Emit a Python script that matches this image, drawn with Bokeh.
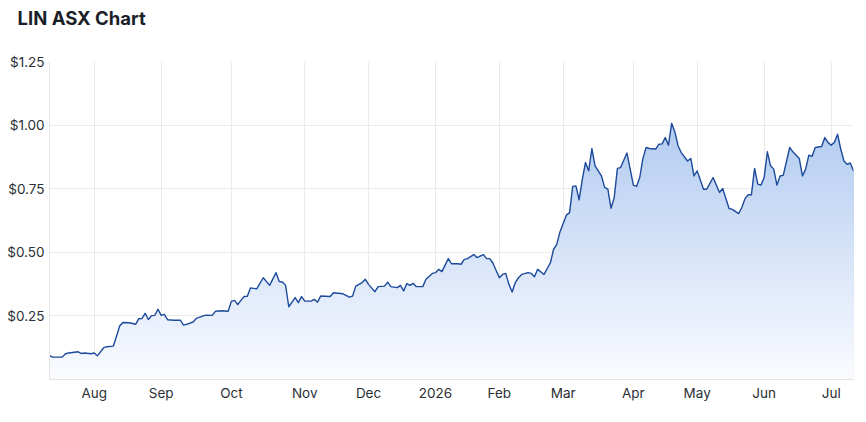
import numpy as np
from bokeh.plotting import figure
from bokeh.models import ColumnDataSource, FixedTicker, NumeralTickFormatter, Range1d
from bokeh.embed import file_html
from bokeh.resources import INLINE

# ---- data ----
dates = [
    "2025-07-14", "2025-07-15", "2025-07-18", "2025-07-21", "2025-07-22", "2025-07-25", "2025-07-28", "2025-07-29",
    "2025-07-31", "2025-08-01", "2025-08-04", "2025-08-06", "2025-08-07", "2025-08-11", "2025-08-12", "2025-08-13",
    "2025-08-14", "2025-08-18", "2025-08-20", "2025-08-21", "2025-08-22", "2025-08-25", "2025-08-26", "2025-08-27",
    "2025-08-28", "2025-08-29", "2025-09-01", "2025-09-02", "2025-09-03", "2025-09-05", "2025-09-09", "2025-09-10",
    "2025-09-11", "2025-09-15", "2025-09-16", "2025-09-18", "2025-09-19", "2025-09-23", "2025-09-24", "2025-09-26",
    "2025-09-30", "2025-10-01", "2025-10-02", "2025-10-03", "2025-10-06", "2025-10-07", "2025-10-08", "2025-10-09",
    "2025-10-10", "2025-10-13", "2025-10-15", "2025-10-17", "2025-10-21", "2025-10-22", "2025-10-23", "2025-10-24",
    "2025-10-27", "2025-10-29", "2025-10-30", "2025-10-31", "2025-11-03", "2025-11-05", "2025-11-06", "2025-11-07",
    "2025-11-10", "2025-11-13", "2025-11-14", "2025-11-19", "2025-11-21", "2025-11-24", "2025-11-25", "2025-11-27",
    "2025-11-28", "2025-12-01", "2025-12-03", "2025-12-04", "2025-12-08", "2025-12-09", "2025-12-10", "2025-12-12",
    "2025-12-15", "2025-12-16", "2025-12-17", "2025-12-18", "2025-12-19", "2025-12-22", "2025-12-24", "2025-12-29",
    "2025-12-31", "2026-01-02", "2026-01-05", "2026-01-06", "2026-01-08", "2026-01-09", "2026-01-13", "2026-01-14",
    "2026-01-15", "2026-01-16", "2026-01-20", "2026-01-21", "2026-01-23", "2026-01-27", "2026-01-28", "2026-01-29",
    "2026-02-02", "2026-02-03", "2026-02-04", "2026-02-05", "2026-02-06", "2026-02-09", "2026-02-10", "2026-02-11",
    "2026-02-13", "2026-02-16", "2026-02-17", "2026-02-18", "2026-02-20", "2026-02-24", "2026-02-25", "2026-02-26",
    "2026-02-27", "2026-03-03", "2026-03-04", "2026-03-05", "2026-03-06", "2026-03-09", "2026-03-10", "2026-03-11",
    "2026-03-12", "2026-03-13", "2026-03-16", "2026-03-18", "2026-03-19", "2026-03-20", "2026-03-23", "2026-03-24",
    "2026-03-25", "2026-03-26", "2026-03-30", "2026-03-31", "2026-04-01", "2026-04-02", "2026-04-07", "2026-04-08",
    "2026-04-09", "2026-04-10", "2026-04-14", "2026-04-15", "2026-04-16", "2026-04-17", "2026-04-20", "2026-04-21",
    "2026-04-22", "2026-04-23", "2026-04-24", "2026-04-28", "2026-04-29", "2026-04-30", "2026-05-01", "2026-05-05",
    "2026-05-06", "2026-05-08", "2026-05-12", "2026-05-13", "2026-05-15", "2026-05-18", "2026-05-20", "2026-05-21",
    "2026-05-22", "2026-05-25", "2026-05-26", "2026-05-27", "2026-05-28", "2026-05-29", "2026-06-01", "2026-06-02",
    "2026-06-03", "2026-06-04", "2026-06-05", "2026-06-09", "2026-06-10", "2026-06-12", "2026-06-15", "2026-06-17",
    "2026-06-18", "2026-06-19", "2026-06-22", "2026-06-23", "2026-06-24", "2026-06-26", "2026-06-29", "2026-06-30",
    "2026-07-01", "2026-07-02", "2026-07-03", "2026-07-06", "2026-07-07", "2026-07-08", "2026-07-09", "2026-07-10",
]
prices = [
    0.094, 0.088, 0.088, 0.101, 0.104, 0.109, 0.102, 0.104,
    0.101, 0.104, 0.093, 0.125, 0.129, 0.131, 0.170, 0.210,
    0.224, 0.223, 0.217, 0.239, 0.240, 0.260, 0.236, 0.251,
    0.252, 0.276, 0.252, 0.256, 0.235, 0.233, 0.233, 0.214,
    0.217, 0.226, 0.240, 0.249, 0.253, 0.252, 0.268, 0.270,
    0.268, 0.307, 0.311, 0.294, 0.311, 0.326, 0.327, 0.360,
    0.358, 0.357, 0.400, 0.370, 0.420, 0.385, 0.383, 0.370,
    0.286, 0.322, 0.302, 0.326, 0.308, 0.308, 0.315, 0.304,
    0.328, 0.326, 0.341, 0.337, 0.324, 0.328, 0.367, 0.381,
    0.394, 0.374, 0.345, 0.365, 0.367, 0.383, 0.365, 0.361,
    0.370, 0.348, 0.377, 0.370, 0.378, 0.365, 0.365, 0.394,
    0.417, 0.420, 0.433, 0.424, 0.475, 0.455, 0.455, 0.453,
    0.472, 0.475, 0.491, 0.479, 0.491, 0.475, 0.475, 0.457,
    0.400, 0.413, 0.417, 0.374, 0.344, 0.381, 0.400, 0.413,
    0.420, 0.417, 0.404, 0.433, 0.413, 0.459, 0.512, 0.531,
    0.580, 0.646, 0.656, 0.759, 0.761, 0.706, 0.787, 0.853,
    0.820, 0.908, 0.840, 0.800, 0.755, 0.748, 0.673, 0.715,
    0.830, 0.833, 0.890, 0.827, 0.764, 0.759, 0.794, 0.869,
    0.912, 0.908, 0.906, 0.925, 0.926, 0.951, 0.921, 1.007,
    0.974, 0.919, 0.892, 0.859, 0.869, 0.800, 0.820, 0.748,
    0.748, 0.794, 0.735, 0.751, 0.672, 0.669, 0.652, 0.676,
    0.711, 0.726, 0.726, 0.830, 0.768, 0.764, 0.794, 0.895,
    0.840, 0.827, 0.764, 0.800, 0.803, 0.912, 0.895, 0.869,
    0.800, 0.827, 0.882, 0.877, 0.912, 0.916, 0.951, 0.932,
    0.921, 0.932, 0.964, 0.906, 0.859, 0.846, 0.851, 0.820,
]
# ASX market holidays in the period (the axis runs over trading sessions)
holidays = ["2025-12-25", "2025-12-26", "2026-01-01", "2026-01-26",
            "2026-04-03", "2026-04-06", "2026-06-08"]
month_starts = ["2025-08-01", "2025-09-01", "2025-10-01", "2025-11-01", "2025-12-01", "2026-01-01",
                "2026-02-01", "2026-03-01", "2026-04-01", "2026-05-01", "2026-06-01", "2026-07-01"]
month_labels = ["Aug", "Sep", "Oct", "Nov", "Dec", "2026", "Feb", "Mar", "Apr", "May", "Jun", "Jul"]
y_ticks = [0.25, 0.50, 0.75, 1.00, 1.25]
title_text = "LIN ASX Chart"

# ---- session index (trading-day axis) ----
hol = np.array(holidays, dtype="datetime64[D]")
start = np.datetime64(dates[0], "D")
d = np.array(dates, dtype="datetime64[D]")
session = np.busday_count(start, d, holidays=hol).astype(float)
first_days = np.busday_offset(np.array(month_starts, dtype="datetime64[D]"), 0,
                              roll="forward", holidays=hol)
tick_pos = np.busday_count(start, first_days, holidays=hol).astype(float)
price = np.array(prices)

FONT = "Inter"
TXT = "#2b2f36"
GRID = "#ebebeb"
FW, FH = 804, 318

p = figure(frame_width=FW, frame_height=FH, output_backend="svg", toolbar_location=None,
           x_range=Range1d(0, session[-1]), y_range=Range1d(0, 1.25),
           min_border_left=49, min_border_right=4, min_border_top=61, min_border_bottom=20,
           title=title_text)
p.outline_line_color = None
p.background_fill_color = "white"
p.border_fill_color = "white"

p.title.text_font = FONT
p.title.text_font_size = "18.5px"
p.title.text_font_style = "bold"
p.title.text_color = "#1b1f2a"
p.title.offset = -32
p.title.standoff = 0
p.title.padding = dict(left=0, right=0, top=0, bottom=33)

# ---- gradient fill under the curve (layered bands) ----
top_c = np.array([178, 203, 240])
bot_c = np.array([251, 252, 255])
levels = np.linspace(1.25, 0.0, 64, endpoint=False)
def col(v):
    t = min(max(v / 1.02, 0.0), 1.0)
    c = bot_c + (top_c - bot_c) * t
    return "#%02x%02x%02x" % tuple(int(round(x)) for x in c)

src = ColumnDataSource(dict(x=session, y=price, z=np.zeros_like(price)))
for h in levels:
    src.data["b%.4f" % h] = np.minimum(price, h)
for h in levels:
    p.varea(x="x", y1="z", y2="b%.4f" % h, source=src, fill_color=col(h), fill_alpha=1.0)

p.line(x="x", y="y", source=src, line_color="#1e4b9b", line_width=1.4, line_join="round")

# ---- axes ----
p.xaxis.ticker = FixedTicker(ticks=list(tick_pos))
p.xaxis.major_label_overrides = {float(t): l for t, l in zip(tick_pos, month_labels)}
p.yaxis.ticker = FixedTicker(ticks=y_ticks)
p.yaxis.formatter = NumeralTickFormatter(format="$0.00")
for ax in (p.xaxis, p.yaxis):
    ax.axis_line_color = "#e3e3e3"
    ax.major_tick_line_color = None
    ax.minor_tick_line_color = None
    ax.major_tick_out = 0
    ax.major_tick_in = 0
    ax.minor_tick_out = 0
    ax.major_label_text_font = FONT
    ax.major_label_text_font_size = "13.5px"
    ax.major_label_text_color = TXT
p.xaxis.major_label_standoff = 5
p.yaxis.major_label_standoff = 5

p.xgrid.ticker = FixedTicker(ticks=list(tick_pos))
p.ygrid.ticker = FixedTicker(ticks=y_ticks)
p.grid.grid_line_color = GRID
p.grid.grid_line_width = 1

open("out.html", "w").write(file_html(p, INLINE))
